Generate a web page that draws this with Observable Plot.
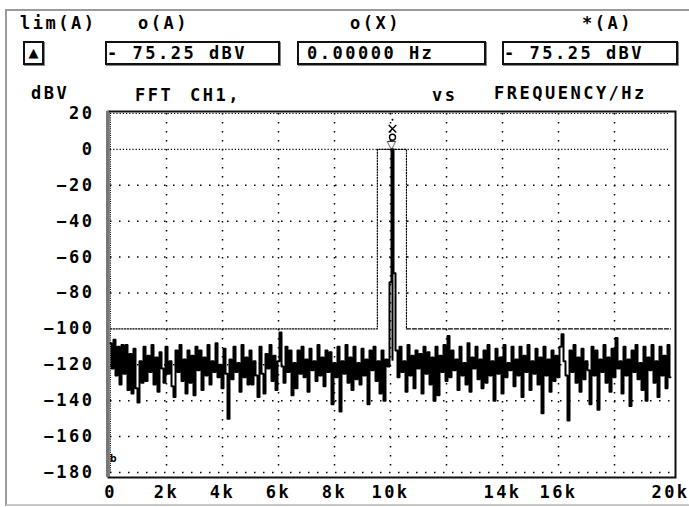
<!DOCTYPE html>
<html>
<head>
<meta charset="utf-8">
<script src="https://cdn.jsdelivr.net/npm/d3@7"></script>
<script src="https://cdn.jsdelivr.net/npm/@observablehq/plot@0.6"></script>
<style>
  html, body { margin: 0; padding: 0; background: #fff; }
  #wrap { position: relative; width: 689px; height: 507px; overflow: hidden; background: #fff;
          font-family: "DejaVu Sans Mono", monospace; font-weight: bold; font-size: 17px; letter-spacing: 2.5px; color: #000; }
  #outer { position: absolute; left: 5px; top: 9px; width: 700px; height: 493px;
           border-left: 2px solid #9a9a9a; border-top: 2px solid #9a9a9a; border-bottom: 2px solid #c8c8c8; }
  .lbl { position: absolute; white-space: pre; line-height: 1; }
  .box { position: absolute; border: 2px solid #111; box-shadow: 1px 1px 0 #888; height: 20px; line-height: 20px; white-space: pre; }
  #chart { position: absolute; left: 0; top: 0; }
  #chart svg text { letter-spacing: 2.5px; }
</style>
</head>
<body>
<div id="wrap">
  <div id="outer"></div>
  <div id="chart"></div>
</div>
<script>
// ---- data ----
const headerLabels = ["lim(A)", "o(A)", "o(X)", "*(A)"];
const readouts = ["\u25B2", "- 75.25 dBV", "0.00000 Hz", "- 75.25 dBV"];
const subLabels = ["dBV", "FFT", "CH1,", "vs", "FREQUENCY/Hz"];

const xTickValues = [0, 2000, 4000, 6000, 8000, 10000, 14000, 16000, 20000];
const xTickLabels = ["0", "2k", "4k", "6k", "8k", "10k", "14k", "16k", "20k"];
const xGrid = [2000, 4000, 6000, 8000, 10000, 12000, 14000, 16000, 18000];
const yTickValues = [20, 0, -20, -40, -60, -80, -100, -120, -140, -160, -180];
const yGridSparse = [-20, -40, -60, -80, -120, -140, -160, -180];

const spanHz = 20000;
const binCount = 280;
// spectrum level per bin (dBV)
const spectrumDb = [
  -108,-122,-106,-126,-110,-131,-109,-125,-109,-134,-114,-136,-111,-133,-141,-118,-130,-110,-129,-115,
  -124,-109,-131,-116,-135,-113,-122,-130,-110,-125,-118,-132,-138,-112,-124,-109,-129,-117,-136,-112,
  -130,-115,-137,-110,-123,-112,-134,-116,-126,-109,-131,-118,-124,-108,-127,-120,-133,-111,-125,-150,
  -117,-128,-110,-124,-119,-135,-109,-127,-116,-131,-112,-131,-118,-126,-138,-110,-125,-136,-114,-122,
  -109,-129,-115,-134,-118,-102,-121,-130,-110,-124,-112,-137,-119,-133,-112,-125,-110,-127,-117,-135,
  -111,-123,-118,-129,-109,-126,-116,-132,-112,-124,-113,-142,-119,-127,-110,-146,-118,-125,-109,-130,
  -116,-134,-110,-128,-119,-131,-111,-126,-117,-142,-112,-123,-110,-129,-118,-136,-112,-140,-117,-121,
  -74, 0, -69,
  -112,-127,-110,-124,-118,-135,-109,-126,-115,-133,-112,-122,-114,-136,-110,-125,-113,-131,-116,-140,
  -110,-137,-115,-124,-109,-129,-104,-127,-112,-123,-117,-134,-110,-126,-119,-131,-108,-135,-116,-122,
  -110,-128,-117,-133,-112,-130,-109,-126,-118,-140,-111,-125,-116,-136,-109,-127,-119,-123,-110,-132,
  -117,-126,-110,-138,-115,-124,-109,-134,-118,-125,-111,-131,-116,-147,-110,-126,-117,-135,-112,-129,
  -115,-127,-110,-103,-118,-126,-151,-112,-124,-109,-130,-116,-135,-111,-128,-118,-123,-142,-110,-126,
  -112,-145,-117,-124,-109,-130,-116,-135,-111,-127,-105,-122,-118,-136,-110,-126,-117,-143,-112,-124,
  -109,-128,-119,-134,-110,-140,-116,-123,-109,-130,-118,-138,-110,-126,-115,-133,-109,-127
];
const peakBin = 141;

const maskFreqA = [0, 9530, 9530, 10570, 10570];
const maskDbA = [-100, -100, 0, 0, -100];
const maskFreqB = [10570, 20000];
const maskDbB = [-100, -100];

// ---- build tables ----
const spectrum = spectrumDb.map((db, i) => ({ f: i * spanHz / binCount, db }));
const maskA = maskFreqA.map((f, i) => ({ f, db: maskDbA[i] }));
const maskB = maskFreqB.map((f, i) => ({ f, db: maskDbB[i] }));
const peakF = peakBin * spanHz / binCount;
const labelOf = new Map(xTickValues.map((v, i) => [v, xTickLabels[i]]));

// ---- header (HTML) ----
const wrap = document.getElementById("wrap");
function add(cls, text, css) {
  const d = document.createElement("div");
  d.className = cls; d.textContent = text;
  Object.assign(d.style, css);
  wrap.appendChild(d);
}
add("lbl", headerLabels[0], { left: "20px", top: "15px" });
add("lbl", headerLabels[1], { left: "138px", top: "15px" });
add("lbl", headerLabels[2], { left: "350px", top: "15px" });
add("lbl", headerLabels[3], { left: "582px", top: "15px" });
add("box", readouts[0], { left: "23px", top: "41px", width: "17px", fontSize: "13px", letterSpacing: "0", textAlign: "center", fontFamily: "DejaVu Sans" });
add("box", readouts[1], { left: "105px", top: "41px", width: "171px", paddingLeft: "0px" });
add("box", readouts[2], { left: "297px", top: "41px", width: "177px", paddingLeft: "8px" });
add("box", readouts[3], { left: "502px", top: "41px", width: "172px", paddingLeft: "0px" });
add("lbl", subLabels[0], { left: "31px", top: "85px" });
add("lbl", subLabels[1], { left: "135px", top: "87px" });
add("lbl", subLabels[2], { left: "190px", top: "87px" });
add("lbl", subLabels[3], { left: "432px", top: "87px" });
add("lbl", subLabels[4], { left: "494px", top: "85px" });

// ---- chart ----
const chart = Plot.plot({
  width: 689,
  height: 507,
  marginLeft: 110,
  marginRight: 19,
  marginTop: 113,
  marginBottom: 35,
  style: { fontFamily: "DejaVu Sans Mono", fontWeight: "bold", fontSize: "17px", color: "#000", background: "transparent" },
  x: { domain: [0, 20000], label: null },
  y: { domain: [-180, 20], label: null },
  marks: [
    Plot.ruleY(yGridSparse, { stroke: "#000", strokeWidth: 1.5, strokeDasharray: "1.5,7.5" }),
    Plot.ruleX(xGrid, { stroke: "#000", strokeWidth: 1.5, strokeDasharray: "1.5,7.5" }),
    Plot.ruleY([0, 20], { stroke: "#000", strokeWidth: 1.2, strokeDasharray: "1.2,2" }),
    Plot.ruleX([0], { stroke: "#000", strokeWidth: 1, strokeDasharray: "1,1.2" }),
    Plot.line(maskA, { x: "f", y: "db", stroke: "#000", strokeWidth: 1.2, strokeDasharray: "1.2,1.6" }),
    Plot.line(maskB, { x: "f", y: "db", stroke: "#000", strokeWidth: 1.3, strokeDasharray: "4,2" }),
    Plot.line(spectrum, { x: "f", y: "db", curve: "step", stroke: "#000", strokeWidth: 2 }),
    Plot.ruleX([peakF], { y1: -118, y2: 0, stroke: "#000", strokeWidth: 2 }),
    Plot.dot([{ f: peakF, db: 16.5 }], { x: "f", y: "db", r: 1, fill: "#000" }),
    Plot.dot([{ f: peakF, db: 11.5 }], { x: "f", y: "db", symbol: "times", r: 3.5, stroke: "#000", strokeWidth: 1.4 }),
    Plot.dot([{ f: peakF, db: 6.8 }], { x: "f", y: "db", symbol: "circle", r: 3, stroke: "#000", strokeWidth: 1.4 }),
    Plot.text([{ f: peakF, db: 2.6 }], { x: "f", y: "db", text: () => "\u25BD", fontSize: 12, fontFamily: "DejaVu Sans", fontWeight: "normal" }),
    Plot.text([{ f: 0, db: -172 }], { x: "f", y: "db", text: () => "b", fontSize: 11, dx: 4 }),
    Plot.frame({ stroke: "#111", strokeWidth: 2, insetLeft: -2, insetRight: -5, insetTop: -2, insetBottom: -5 }),
    Plot.ruleX([0], { dx: -3, stroke: "#777", strokeWidth: 3, insetTop: -2, insetBottom: -5 }),
    Plot.axisY({ ticks: yTickValues, tickSize: 0, tickPadding: 16, anchor: "left", label: null }),
    Plot.axisX({ ticks: xTickValues, tickSize: 0, tickPadding: 13, anchor: "bottom", label: null, tickFormat: d => labelOf.get(d) })
  ]
});
document.getElementById("chart").appendChild(chart);
</script>
</body>
</html>
